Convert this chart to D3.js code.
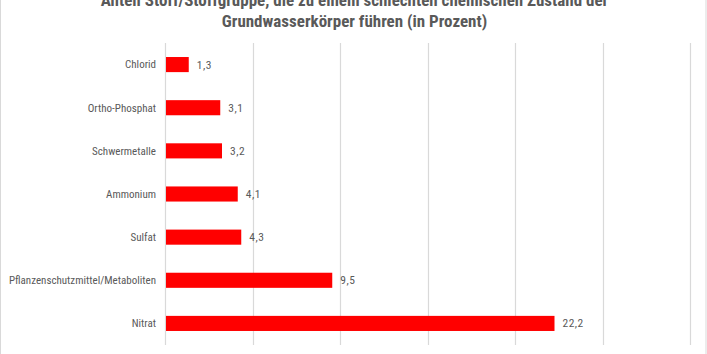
<!DOCTYPE html>
<html>
<head>
<meta charset="utf-8">
<script src="https://cdn.jsdelivr.net/npm/d3@7"></script>
<style>
  body { margin: 0; background: #fff; }
  text { font-family: "Liberation Sans Narrow", "Roboto Condensed", "Liberation Sans", sans-serif; fill: #595959; }
</style>
</head>
<body>
<div id="chart"></div>
<script>
// categories top to bottom
var categories = ["Chlorid", "Ortho-Phosphat", "Schwermetalle", "Ammonium", "Sulfat", "Pflanzenschutzmittel/Metaboliten", "Nitrat"];
var values = [1.3, 3.1, 3.2, 4.1, 4.3, 9.5, 22.2];
var gridTicks = [0, 5, 10, 15, 20, 25, 30];
var titleLines = ["Anteil Stoff/Stoffgruppe, die zu einem schlechten chemischen Zustand der", "Grundwasserkörper führen (in Prozent)"];

var width = 707, height = 354;
var margin = { top: 43, right: 17, bottom: 9, left: 165 };

var svg = d3.select("#chart").append("svg")
  .attr("width", width)
  .attr("height", height);

// chart border
svg.append("rect")
  .attr("x", 0.5).attr("y", -2)
  .attr("width", width - 1.5).attr("height", height + 4)
  .attr("fill", "none")
  .attr("stroke", "#d9d9d9");

svg.selectAll(".title")
  .data(titleLines)
  .enter().append("text")
  .attr("class", "title")
  .attr("x", width / 2 + 1)
  .attr("y", function (d, i) { return 6 + i * 21; })
  .attr("text-anchor", "middle")
  .style("font-size", "17px")
  .style("font-weight", "bold")
  .text(function (d) { return d; });

var x = d3.scaleLinear()
  .domain([0, 30])
  .range([margin.left, width - margin.right]);

var y = d3.scaleBand()
  .domain(categories)
  .range([margin.top, height - margin.bottom])
  .paddingInner(0.65)
  .paddingOuter(0.325);

svg.selectAll(".grid")
  .data(gridTicks)
  .enter().append("line")
  .attr("class", "grid")
  .attr("x1", function (d) { return Math.round(x(d)) + 0.5; })
  .attr("x2", function (d) { return Math.round(x(d)) + 0.5; })
  .attr("y1", margin.top)
  .attr("y2", height - margin.bottom)
  .attr("stroke", "#d9d9d9")
  .attr("stroke-width", 1.2);

svg.selectAll(".bar")
  .data(values)
  .enter().append("rect")
  .attr("class", "bar")
  .attr("x", x(0) + 1)
  .attr("y", function (d, i) { return y(categories[i]); })
  .attr("width", function (d) { return x(d) - x(0); })
  .attr("height", y.bandwidth())
  .attr("fill", "#ff0000");

svg.selectAll(".val")
  .data(values)
  .enter().append("text")
  .attr("class", "val")
  .attr("x", function (d) { return x(d) + 9; })
  .attr("y", function (d, i) { return y(categories[i]) + y.bandwidth() / 2; })
  .attr("dy", "0.35em")
  .style("font-size", "11.5px")
  .style("letter-spacing", "0.5px")
  .text(function (d) { return d3.format(".1f")(d).replace(".", ","); });

svg.selectAll(".cat")
  .data(categories)
  .enter().append("text")
  .attr("class", "cat")
  .attr("x", margin.left - 9)
  .attr("y", function (d) { return y(d) + y.bandwidth() / 2; })
  .attr("dy", "0.35em")
  .attr("text-anchor", "end")
  .style("font-size", "11px")
  .text(function (d) { return d; });
</script>
</body>
</html>
